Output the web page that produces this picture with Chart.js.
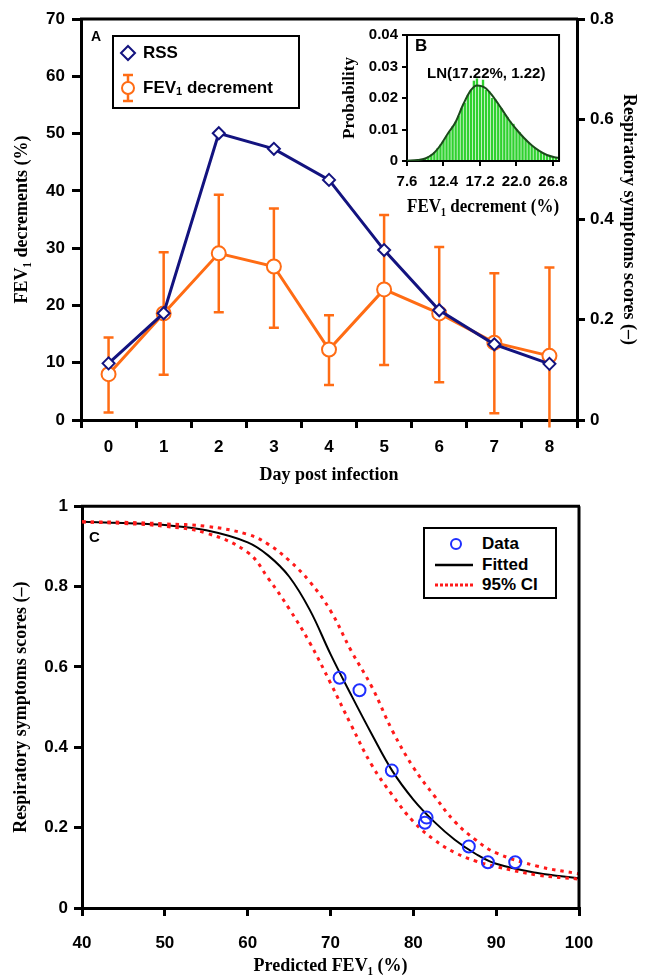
<!DOCTYPE html>
<html>
<head>
<meta charset="utf-8">
<script src="https://cdn.jsdelivr.net/npm/chart.js@4.4.1/dist/chart.umd.min.js"></script>
<style>
  body { margin: 0; background: #fff; }
  #wrap { position: relative; width: 651px; height: 977px; overflow: hidden; font-family: "Liberation Sans", Arial, sans-serif; }
  canvas { position: absolute; }
  .tag { position: absolute; font-weight: bold; line-height: 1; }
  .legend { position: absolute; border: 2px solid #000; background: #fff; box-sizing: border-box; }
  .legend .txt { position: absolute; font-weight: bold; font-size: 17px; line-height: 20px; white-space: nowrap; }
  .legend sub { font-size: 11px; vertical-align: -2px; line-height: 0; }
  .legend svg { position: absolute; }
</style>
</head>
<body>
<div id="wrap">
  <canvas id="chartA" width="651" height="490" style="left:0;top:0"></canvas>
  <canvas id="chartB" width="240" height="200" style="left:335px;top:22px"></canvas>
  <canvas id="chartC" width="651" height="487" style="left:0;top:490px"></canvas>

  <div class="tag" style="left:91px;top:29px;font-size:14px">A</div>
  <div class="tag" style="left:415px;top:37px;font-size:17px">B</div>
  <div class="tag" style="left:89px;top:529px;font-size:15px">C</div>
  <div class="tag" style="left:427px;top:65px;font-size:15px">LN(17.22%, 1.22)</div>

  <div class="legend" style="left:112px;top:35px;width:188px;height:74px">
    <svg style="left:5px;top:7px" width="18" height="18"><path d="M9 2 L16 9 L9 16 L2 9 Z" fill="#fff" stroke="#13137f" stroke-width="2"/></svg>
    <div class="txt" style="left:29px;top:6px">RSS</div>
    <svg style="left:6px;top:36px" width="16" height="30">
      <path d="M3 2 H13 M8 2 V28 M3 28 H13" stroke="#ff6c14" stroke-width="2.5" fill="none"/>
      <circle cx="8" cy="15" r="6" fill="#fff" stroke="#ff6c14" stroke-width="2"/>
    </svg>
    <div class="txt" style="left:29px;top:41px">FEV<sub>1</sub> decrement</div>
  </div>

  <div class="legend" style="left:423px;top:527px;width:134px;height:72px">
    <svg style="left:24px;top:8px" width="14" height="14"><circle cx="7" cy="7" r="5" fill="none" stroke="#1f2fff" stroke-width="2"/></svg>
    <div class="txt" style="left:57px;top:5px">Data</div>
    <svg style="left:10px;top:32px" width="38" height="8"><line x1="0" y1="4" x2="38" y2="4" stroke="#000" stroke-width="2.5"/></svg>
    <div class="txt" style="left:57px;top:26px">Fitted</div>
    <svg style="left:10px;top:52px" width="38" height="8"><line x1="0" y1="4" x2="38" y2="4" stroke="#ff1a1a" stroke-width="3" stroke-dasharray="3 2"/></svg>
    <div class="txt" style="left:57px;top:46px">95% CI</div>
  </div>
</div>

<script>
// panel A
const days = ['0', '1', '2', '3', '4', '5', '6', '7', '8'];
const rss = [0.113, 0.213, 0.572, 0.541, 0.479, 0.339, 0.219, 0.151, 0.112];
const fevDecrement = [8.0, 18.6, 29.1, 26.8, 12.3, 22.8, 18.6, 13.5, 11.2];
const fevUpper = [14.4, 29.3, 39.3, 36.9, 18.3, 35.8, 30.2, 25.6, 26.6];
const fevLower = [1.3, 7.9, 18.8, 16.1, 6.1, 9.6, 6.6, 1.2, -1.3];

// panel B (inset histogram + lognormal fit)
const binCenters = [8.0, 8.4, 8.8, 9.2, 9.6, 10.0, 10.4, 10.8, 11.2, 11.6, 12.0, 12.4, 12.8, 13.2, 13.6,
  14.0, 14.4, 14.8, 15.2, 15.6, 16.0, 16.4, 16.8, 17.2, 17.6, 18.0, 18.4, 18.8, 19.2, 19.6, 20.0, 20.4,
  20.8, 21.2, 21.6, 22.0, 22.4, 22.8, 23.2, 23.6, 24.0, 24.4, 24.8, 25.2, 25.6, 26.0, 26.4, 26.8, 27.2];
const binProb = [0.0001, 0.0002, 0.0003, 0.0004, 0.0006, 0.0009, 0.0014, 0.0020, 0.0028, 0.0040, 0.0052,
  0.0064, 0.0080, 0.0093, 0.0110, 0.0125, 0.0144, 0.0168, 0.0185, 0.0210, 0.0225, 0.0255, 0.0262, 0.0240,
  0.0258, 0.0226, 0.0222, 0.0200, 0.0196, 0.0180, 0.0168, 0.0150, 0.0140, 0.0125, 0.0118, 0.0100, 0.0092,
  0.0078, 0.0068, 0.0058, 0.0050, 0.0042, 0.0035, 0.0028, 0.0023, 0.0018, 0.0014, 0.0012, 0.0010];
const lnFitX = [7.6, 9, 10, 11, 12, 13, 14, 15, 16, 16.8, 17.5, 18, 19, 20, 21, 22, 23, 24, 25, 26, 27, 27.6];
const lnFitY = [0.0001, 0.0003, 0.0008, 0.0022, 0.0050, 0.0088, 0.0124, 0.0180, 0.0225, 0.0240, 0.0237,
  0.0230, 0.0202, 0.0167, 0.0131, 0.0100, 0.0073, 0.0050, 0.0032, 0.0019, 0.0012, 0.0010];
const insetTicks = [7.6, 12.4, 17.2, 22.0, 26.8];

// panel C
const predFev = [71.1, 73.5, 77.4, 81.6, 81.4, 86.7, 89.0, 92.3];
const rssObs = [0.573, 0.542, 0.342, 0.225, 0.212, 0.153, 0.114, 0.114];
const curveX = [40, 45, 50, 55, 60, 62.5, 65, 67.5, 70, 72.5, 75, 77.5, 80, 82.5, 85, 87.5, 90, 95, 100];
const fitted = [0.961, 0.958, 0.953, 0.940, 0.910, 0.877, 0.825, 0.742, 0.632, 0.530, 0.432, 0.340, 0.270,
  0.215, 0.170, 0.135, 0.110, 0.087, 0.074];
const ciUpper = [0.961, 0.960, 0.956, 0.950, 0.930, 0.905, 0.865, 0.812, 0.740, 0.640, 0.550, 0.440, 0.350,
  0.280, 0.215, 0.170, 0.137, 0.104, 0.085];
const ciLower = [0.961, 0.957, 0.950, 0.933, 0.885, 0.820, 0.745, 0.660, 0.560, 0.455, 0.355, 0.280, 0.215,
  0.170, 0.138, 0.117, 0.103, 0.082, 0.072];

const ORANGE = '#ff6c14';
const NAVY = '#13137f';
const sansBold = (size) => ({ family: '"Liberation Sans", Arial, sans-serif', weight: 'bold', size });
const serifBold = (size) => ({ family: '"Liberation Serif", "Times New Roman", serif', weight: 'bold', size });
const trimNum = (v) => String(Number(v.toFixed(3)));

const frame = {
  id: 'frame',
  afterDraw(chart, args, opts) {
    const { ctx, chartArea: a } = chart;
    ctx.save();
    ctx.strokeStyle = '#000';
    ctx.lineWidth = opts.width || 3;
    ctx.beginPath();
    ctx.moveTo(a.left - 1, a.top);
    ctx.lineTo(a.right + 1, a.top);
    if (opts.right) {
      ctx.moveTo(a.right, a.top);
      ctx.lineTo(a.right, a.bottom);
    }
    ctx.stroke();
    ctx.restore();
  }
};

const errorBars = {
  id: 'errorBars',
  beforeDatasetsDraw(chart) {
    const { ctx } = chart;
    const x = chart.scales.x, y = chart.scales.y;
    ctx.save();
    ctx.strokeStyle = ORANGE;
    ctx.lineWidth = 2.5;
    days.forEach((d, i) => {
      const px = x.getPixelForValue(i);
      const top = y.getPixelForValue(fevUpper[i]);
      const bot = y.getPixelForValue(fevLower[i]);
      ctx.beginPath();
      ctx.moveTo(px, top);
      ctx.lineTo(px, bot);
      ctx.moveTo(px - 5, top);
      ctx.lineTo(px + 5, top);
      if (fevLower[i] >= 0) {
        ctx.moveTo(px - 5, bot);
        ctx.lineTo(px + 5, bot);
      }
      ctx.stroke();
    });
    ctx.restore();
  }
};

const axisGrid = (tl) => ({ drawOnChartArea: false, drawTicks: true, tickLength: tl, color: '#000', lineWidth: 3 });
const axisBorder = { color: '#000', width: 3 };

new Chart(document.getElementById('chartA'), {
  type: 'line',
  data: {
    labels: days,
    datasets: [{
      label: 'RSS',
      data: rss,
      yAxisID: 'y1',
      borderColor: NAVY,
      borderWidth: 3,
      pointStyle: 'rectRot',
      pointRadius: 6,
      pointBackgroundColor: '#fff',
      pointBorderColor: NAVY,
      pointBorderWidth: 2
    }, {
      label: 'FEV1 decrement',
      data: fevDecrement,
      yAxisID: 'y',
      borderColor: ORANGE,
      borderWidth: 3,
      pointStyle: 'circle',
      pointRadius: 7,
      pointBackgroundColor: '#fff',
      pointBorderColor: ORANGE,
      pointBorderWidth: 2
    }]
  },
  options: {
    responsive: false,
    animation: false,
    devicePixelRatio: 1,
    layout: { padding: { top: 19, left: 0, right: 0, bottom: 0 } },
    plugins: { legend: { display: false }, tooltip: { enabled: false }, frame: { width: 3 } },
    scales: {
      x: {
        type: 'category',
        offset: true,
        grid: { ...axisGrid(8), offset: true },
        border: axisBorder,
        ticks: { color: '#000', font: sansBold(17), padding: 9 },
        title: { display: true, text: 'Day post infection', color: '#000', font: serifBold(18), padding: { top: 0, bottom: 4 } },
        afterFit(s) { s.height = 70; }
      },
      y: {
        position: 'left',
        min: 0, max: 70,
        grid: axisGrid(9),
        border: axisBorder,
        ticks: { stepSize: 10, color: '#000', font: sansBold(17), padding: 7 },
        title: { display: true, text: 'FEV₁ decrements (%)', color: '#000', font: serifBold(18), padding: { top: 12, bottom: 0 } },
        afterFit(s) { s.width = 81; }
      },
      y1: {
        position: 'right',
        min: 0, max: 0.8,
        grid: axisGrid(8),
        border: axisBorder,
        ticks: { stepSize: 0.2, color: '#000', font: sansBold(17), padding: 5, callback: trimNum },
        title: { display: true, text: 'Respiratory symptoms scores (–)', color: '#000', font: serifBold(18), padding: { top: 12, bottom: 0 } },
        afterFit(s) { s.width = 74; }
      }
    }
  },
  plugins: [errorBars, frame]
});

new Chart(document.getElementById('chartB'), {
  type: 'bar',
  data: {
    datasets: [{
      type: 'line',
      data: lnFitX.map((x, i) => ({ x, y: lnFitY[i] })),
      borderColor: '#1b4a1b',
      borderWidth: 2,
      pointRadius: 0,
      cubicInterpolationMode: 'monotone'
    }, {
      type: 'bar',
      data: binCenters.map((x, i) => ({ x, y: binProb[i] })),
      backgroundColor: '#2fd12f',
      borderWidth: 0,
      barPercentage: 0.78,
      categoryPercentage: 1
    }]
  },
  options: {
    responsive: false,
    animation: false,
    devicePixelRatio: 1,
    layout: { padding: { top: 10, right: 11, left: 0, bottom: 0 } },
    plugins: { legend: { display: false }, tooltip: { enabled: false }, frame: { width: 2, right: true } },
    scales: {
      x: {
        type: 'linear',
        min: 7.6, max: 27.6,
        offset: false,
        grid: { drawOnChartArea: false, drawTicks: true, tickLength: 5, color: '#000', lineWidth: 2, offset: false },
        border: { color: '#000', width: 2 },
        afterBuildTicks(s) { s.ticks = insetTicks.map(v => ({ value: v })); },
        ticks: { color: '#000', font: sansBold(15), padding: 7, autoSkip: false, maxRotation: 0, callback: v => v.toFixed(1) },
        title: { display: true, text: 'FEV₁ decrement (%)', color: '#000', font: serifBold(18), padding: { top: 0, bottom: 4 } },
        afterFit(s) { s.height = 61; }
      },
      y: {
        min: 0, max: 0.04,
        grid: { drawOnChartArea: false, drawTicks: true, tickLength: 5, color: '#000', lineWidth: 2 },
        border: { color: '#000', width: 2 },
        ticks: { stepSize: 0.01, color: '#000', font: sansBold(15), padding: 4, callback: trimNum },
        title: { display: true, text: 'Probability', color: '#000', font: serifBold(17), padding: { top: 4, bottom: 0 } },
        afterFit(s) { s.width = 72; }
      }
    }
  },
  plugins: [frame]
});

new Chart(document.getElementById('chartC'), {
  type: 'scatter',
  data: {
    datasets: [{
      label: 'Data',
      data: predFev.map((x, i) => ({ x, y: rssObs[i] })),
      pointRadius: 6,
      pointBackgroundColor: 'rgba(255,255,255,0)',
      pointBorderColor: '#1f2fff',
      pointBorderWidth: 2,
      showLine: false
    }, {
      label: '95% CI',
      data: curveX.map((x, i) => ({ x, y: ciUpper[i] })),
      showLine: true,
      pointRadius: 0,
      borderColor: '#ff1a1a',
      borderWidth: 3,
      borderDash: [3.5, 5],
      tension: 0.4
    }, {
      label: '95% CI lower',
      data: curveX.map((x, i) => ({ x, y: ciLower[i] })),
      showLine: true,
      pointRadius: 0,
      borderColor: '#ff1a1a',
      borderWidth: 3,
      borderDash: [3.5, 5],
      tension: 0.4
    }, {
      label: 'Fitted',
      data: curveX.map((x, i) => ({ x, y: fitted[i] })),
      showLine: true,
      pointRadius: 0,
      borderColor: '#000',
      borderWidth: 2,
      tension: 0.4
    }]
  },
  options: {
    responsive: false,
    animation: false,
    devicePixelRatio: 1,
    layout: { padding: { top: 16, right: 72, left: 0, bottom: 0 } },
    plugins: { legend: { display: false }, tooltip: { enabled: false }, frame: { width: 3, right: true } },
    scales: {
      x: {
        type: 'linear',
        min: 40, max: 100,
        grid: axisGrid(8),
        border: axisBorder,
        ticks: { stepSize: 10, color: '#000', font: sansBold(17), padding: 17 },
        title: { display: true, text: 'Predicted FEV₁ (%)', color: '#000', font: serifBold(18), padding: { top: 0, bottom: 0 } },
        afterFit(s) { s.height = 69; }
      },
      y: {
        min: 0, max: 1,
        grid: axisGrid(8),
        border: axisBorder,
        ticks: { stepSize: 0.2, color: '#000', font: sansBold(17), padding: 6, callback: trimNum },
        title: { display: true, text: 'Respiratory symptoms scores (–)', color: '#000', font: serifBold(18), padding: { top: 11, bottom: 0 } },
        afterFit(s) { s.width = 82; }
      }
    }
  },
  plugins: [frame]
});
</script>
</body>
</html>
